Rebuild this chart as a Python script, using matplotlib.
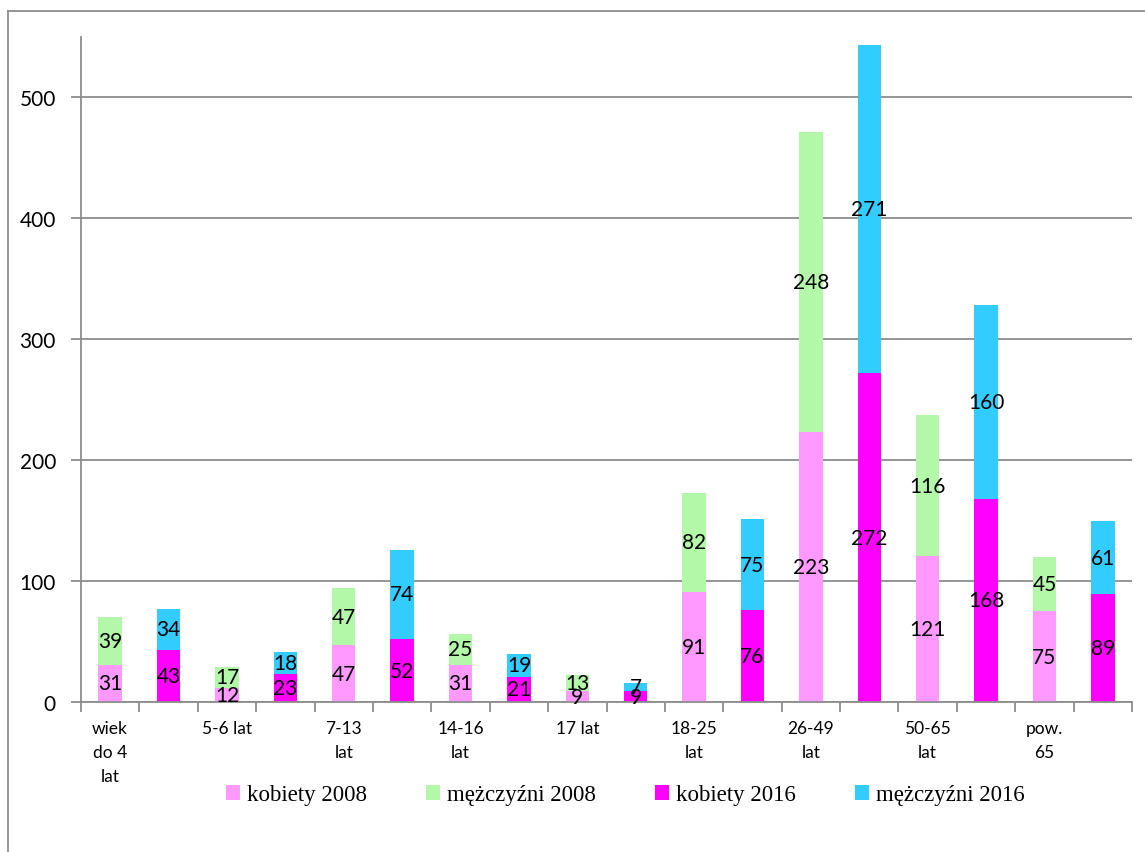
import matplotlib.pyplot as plt
import numpy as np
from matplotlib.lines import Line2D
from matplotlib.patches import Patch

# age groups (one label per pair of bars: 2008, 2016)
groups = ["wiek\ndo 4\nlat", "5-6 lat", "7-13\nlat", "14-16\nlat", "17 lat",
          "18-25\nlat", "26-49\nlat", "50-65\nlat", "pow.\n65"]

kobiety_2008 = [31, 12, 47, 31, 9, 91, 223, 121, 75]
mezczyzni_2008 = [39, 17, 47, 25, 13, 82, 248, 116, 45]
kobiety_2016 = [43, 23, 52, 21, 9, 76, 272, 168, 89]
mezczyzni_2016 = [34, 18, 74, 19, 7, 75, 271, 160, 61]

series_names = ["kobiety 2008", "mężczyźni 2008", "kobiety 2016", "mężczyźni 2016"]
colors = ["#FF99FF", "#B3F7A8", "#FF00FF", "#33CCFF"]

fig = plt.figure(figsize=(11.45, 8.53), dpi=100)
ax = fig.add_axes([0.0707, 0.1758, 0.918, 0.7797])

n = len(groups)
x08 = np.arange(n) * 2
x16 = x08 + 1
width = 0.4
grid_color = "#8C8C8C"

ax.set_axisbelow(True)
ax.yaxis.grid(True, color=grid_color, linewidth=1.3)

pairs = [
    (x08, kobiety_2008, mezczyzni_2008, colors[0], colors[1]),
    (x16, kobiety_2016, mezczyzni_2016, colors[2], colors[3]),
]
for xs, low, high, c_low, c_high in pairs:
    b1 = ax.bar(xs, low, width, color=c_low, zorder=2)
    b2 = ax.bar(xs, high, width, bottom=low, color=c_high, zorder=2)
    for cont in (b1, b2):
        ax.bar_label(cont, label_type="center", fontsize=15, family="Lato", color="black", zorder=3)

ax.set_xlim(-0.5, 2 * n - 0.5)
ax.set_ylim(0, 550)
ax.set_yticks(range(0, 501, 100))
ax.set_xticks(x08)
ax.set_xticklabels(groups, family="Lato", fontsize=12.5, linespacing=1.6, va="top")
ax.set_xticks(np.arange(-0.5, 2 * n, 1), minor=True)
ax.tick_params(axis="x", which="major", length=0, pad=13)
ax.tick_params(axis="x", which="minor", length=7, color=grid_color, width=1.3)
ax.tick_params(axis="y", length=7, color=grid_color, width=1.3, pad=11, labelsize=15)
for lab in ax.get_yticklabels():
    lab.set_family("Lato")

for side in ("top", "right"):
    ax.spines[side].set_visible(False)
for side in ("left", "bottom"):
    ax.spines[side].set_color(grid_color)
    ax.spines[side].set_linewidth(1.3)

handles = [Patch(facecolor=c, edgecolor="none") for c in colors]
fig.legend(handles, series_names, loc="center", bbox_to_anchor=(0.546, 0.067), ncol=4,
           frameon=False, prop={"family": "Liberation Serif", "size": 16.5},
           handlelength=0.6, handleheight=0.6, handletextpad=0.3, columnspacing=2.6)

# outer chart border
fig.add_artist(Line2D([0.007, 0.007], [0, 0.986], color=grid_color, linewidth=1.3))
fig.add_artist(Line2D([0.007, 1.0], [0.986, 0.986], color=grid_color, linewidth=1.3))

fig.savefig("out.png", dpi=100)
